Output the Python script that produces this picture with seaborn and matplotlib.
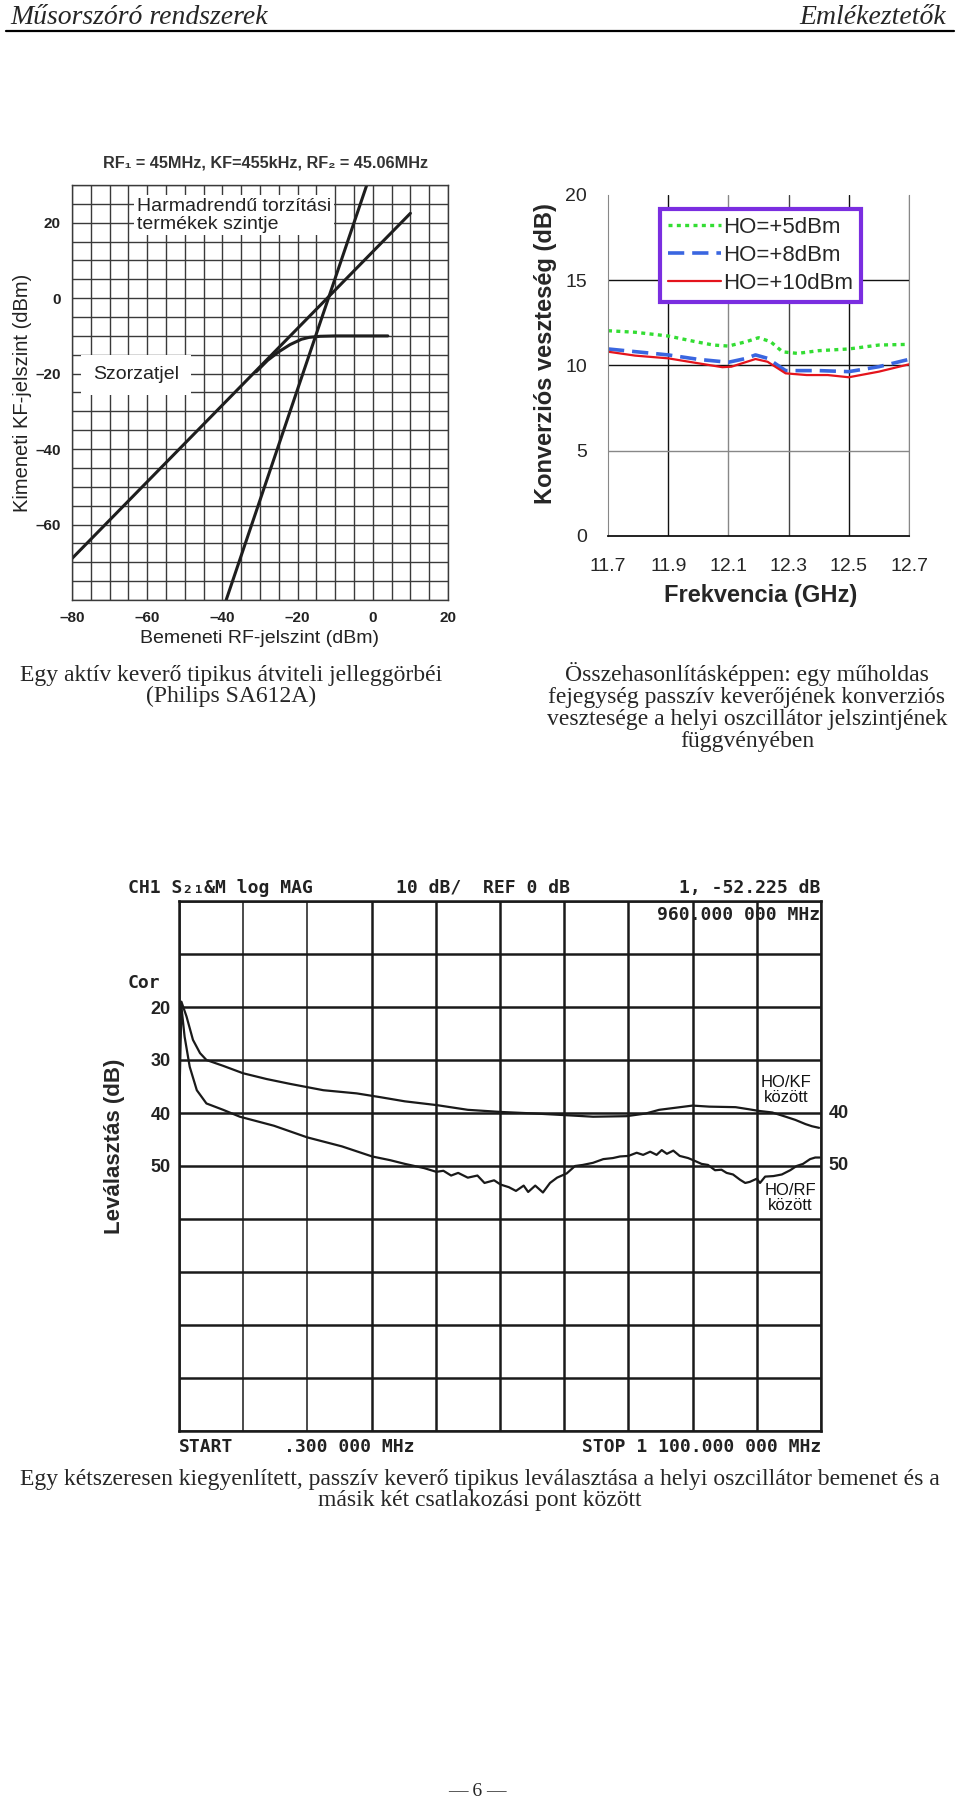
import numpy as np
import pandas as pd
import seaborn as sns
import matplotlib.pyplot as plt
from matplotlib.lines import Line2D

### Page size in pixels (saved at dpi=100)
W, H = 960, 1803

### Top-left: active mixer transfer curves (Philips SA612A)
rf_fund = [-80, 10]
if_fund = [-69, 22.5]
rf_third = [-39, -1.6]
if_third = [-80, 30]
rf_comp = [-31, -28, -25, -22, -19, -17, -14, -10, 4]
if_comp = [-19.5, -16.5, -14.2, -12.3, -10.9, -10.4, -10.1, -10, -10]
tl_xticks = [-80, -60, -40, -20, 0, 20]
tl_xlabels = ['–80', '–60', '–40', '–20', '0', '20']
tl_yticks = [-60, -40, -20, 0, 20]
tl_ylabels = ['–60', '–40', '–20', '0', '20']

### Top-right: conversion loss vs LO level
freq_ho5 = [11.7, 11.79, 11.9, 11.99, 12.05, 12.1, 12.16, 12.2, 12.24, 12.28, 12.33, 12.4, 12.5, 12.6, 12.7]
loss_ho5 = [12.04, 11.95, 11.73, 11.4, 11.2, 11.14, 11.4, 11.63, 11.4, 10.8, 10.71, 10.87, 10.97, 11.2, 11.24]
freq_ho8 = [11.7, 11.9, 12.0, 12.1, 12.16, 12.19, 12.23, 12.29, 12.4, 12.5, 12.6, 12.7]
loss_ho8 = [10.97, 10.62, 10.36, 10.19, 10.42, 10.62, 10.42, 9.7, 9.7, 9.64, 9.93, 10.36]
freq_ho10 = [11.7, 11.79, 11.9, 12.0, 12.08, 12.11, 12.19, 12.23, 12.29, 12.36, 12.43, 12.5, 12.6, 12.7]
loss_ho10 = [10.81, 10.58, 10.42, 10.13, 9.9, 9.93, 10.38, 10.22, 9.54, 9.44, 9.44, 9.31, 9.64, 10.07]
tr_xticks = [11.7, 11.9, 12.1, 12.3, 12.5, 12.7]
tr_yticks = [0, 5, 10, 15, 20]

### Bottom: LO isolation of a double balanced mixer (network analyser trace)
mhz_kf = [0.3, 4.4, 13.2, 24.2, 36.3, 47.3, 75.9, 110, 150.7, 190.3, 247.5, 304.7, 344.3, 387.2,
          441.1, 495, 551.1, 610.5, 661.1, 709.5, 766.7, 799.7, 822.8, 851.4, 880, 908.6, 953.7,
          976.8, 993.3, 1016.4, 1039.5, 1056, 1073.6, 1084.6, 1096.7]
db_kf = [31, 19.0, 21.8, 26.2, 28.7, 30.0, 31.1, 32.5, 33.6, 34.5, 35.7, 36.3, 37.0, 37.8,
         38.5, 39.4, 39.8, 40.1, 40.4, 40.7, 40.6, 40.1, 39.4, 39.0, 38.6, 38.8, 38.9,
         39.3, 39.6, 39.9, 40.7, 41.3, 42.1, 42.5, 42.8]
mhz_rf = [0.3, 4.4, 9.9, 18.7, 30.8, 47.3, 75.9, 104.5, 162.8, 220, 279.4, 331.1, 361.9, 387.2,
          420.2, 441.1, 453.2, 466.4, 478.5, 495, 511.5, 523.6, 540.1, 551.1, 565.4, 577.5,
          590.7, 598.4, 610.5, 623.7, 635.8, 647.9, 664.4, 678.7, 691.9, 709.5, 727.1, 743.6,
          755.7, 770, 784.3, 795.3, 807.4, 818.4, 827.2, 836, 847, 858, 872.3, 881.1, 895.4,
          906.4, 918.5, 929.5, 938.3, 949.3, 961.4, 970.2, 977.9, 990, 995.5, 1004.3, 1018.6,
          1032.9, 1047.2, 1058.2, 1069.2, 1081.3, 1090.1, 1097.8]
db_rf = [41, 19.9, 25.6, 31.3, 35.7, 38.2, 39.4, 40.7, 42.4, 44.6, 46.3, 48.2, 48.9, 49.6,
         50.4, 51.1, 50.9, 51.8, 51.3, 52.2, 51.8, 53.2, 52.7, 53.5, 54.0, 54.7,
         53.7, 54.9, 53.7, 55.0, 53.2, 52.2, 51.4, 50.0, 49.8, 49.4, 48.7, 48.5,
         48.2, 48.1, 47.5, 47.9, 47.3, 47.9, 47.0, 47.7, 47.1, 48.1, 48.5, 48.9, 49.6,
         49.8, 50.8, 50.7, 51.3, 51.6, 52.6, 53.2, 53.0, 52.4, 53.2, 52.0, 51.9,
         51.6, 50.8, 50.0, 49.6, 48.7, 48.4, 48.4]
bt_yticks = list(range(0, 101, 10))
bt_ylabels = ['', '', '20', '30', '40', '50', '', '', '', '', '']


sns.set_style("white")
plt.rcParams['font.family'] = ['Liberation Sans', 'DejaVu Sans']
serif = ['Liberation Serif', 'DejaVu Serif']
mono = ['DejaVu Sans Mono', 'DejaVu Sans']


def px(x, y):
    return x / W, 1 - y / H


def box(l, t, r, b):
    return [l / W, 1 - b / H, (r - l) / W, (b - t) / H]


fig = plt.figure(figsize=(W / 100, H / 100), dpi=100)

### Page header
fig.text(*px(10, 24), 'Műsorszóró rendszerek', family=serif, style='italic', fontsize=20, va='baseline')
fig.text(*px(946, 24), 'Emlékeztetők', family=serif, style='italic', fontsize=20, va='baseline', ha='right')
fig.add_artist(Line2D([6 / W, 954 / W], [1 - 31 / H] * 2, color='black', lw=1.6))


### Top-left chart
ink = '#1e1e1e'
ax1 = fig.add_axes(box(72, 185, 448, 600))
sns.lineplot(x=rf_fund, y=if_fund, ax=ax1, color=ink, lw=2.2)
sns.lineplot(x=rf_third, y=if_third, ax=ax1, color=ink, lw=2.2)
sns.lineplot(x=rf_comp, y=if_comp, ax=ax1, color=ink, lw=2.2)
ax1.set_xlim(-80, 20)
ax1.set_ylim(-80, 30)
ax1.set_xticks(tl_xticks, labels=tl_xlabels, fontweight='bold', fontsize=11)
ax1.set_yticks(tl_yticks, labels=tl_ylabels, fontweight='bold', fontsize=11)
ax1.set_xticks(np.arange(-80, 21, 5), minor=True)
ax1.set_yticks(np.arange(-80, 31, 5), minor=True)
ax1.grid(which='both', color='#3a3a3a', lw=1.0)
ax1.tick_params(which='both', length=0, pad=8, colors='#222')
for s in ax1.spines.values():
    s.set_color('#3a3a3a')
    s.set_linewidth(1.0)
ax1.set_xlabel('Bemeneti RF-jelszint (dBm)', fontsize=14, color='#222')
ax1.set_ylabel('Kimeneti KF-jelszint (dBm)', fontsize=14.5, color='#222')
ax1.xaxis.set_label_coords(0.5, -0.072)
ax1.yaxis.set_label_coords(-0.106, 0.5)
ax1.text(-62.7, 22, 'Harmadrendű torzítási\ntermékek szintje', fontsize=14, color='#222',
         va='center', ha='left', linespacing=1.05,
         bbox=dict(boxstyle='square,pad=0.15', fc='white', ec='none'))
ax1.text(-74.4, -20.3, 'Szorzatjel', fontsize=14, color='#222', va='center', ha='left',
         bbox=dict(boxstyle='square,pad=0.6', fc='white', ec='none'))
fig.text(*px(266, 163), 'RF₁ = 45MHz, KF=455kHz, RF₂ = 45.06MHz', fontsize=11.7,
         fontweight='bold', color='#333', ha='center', va='center')


### Top-right chart
ax2 = fig.add_axes(box(608, 195, 909, 536))
sns.lineplot(x=freq_ho5, y=loss_ho5, ax=ax2, color='#33dd33', lw=2.4,
             linestyle=(0, (1.2, 1.3)), label='HO=+5dBm')
sns.lineplot(x=freq_ho8, y=loss_ho8, ax=ax2, color='#3a66e0', lw=2.6,
             linestyle=(0, (4.5, 2.2)), label='HO=+8dBm')
sns.lineplot(x=freq_ho10, y=loss_ho10, ax=ax2, color='#e4141c', lw=1.6, label='HO=+10dBm')
ax2.set_xlim(11.7, 12.7)
ax2.set_ylim(0, 20)
ax2.set_xticks(tr_xticks, labels=[f'{v:.1f}' for v in tr_xticks])
ax2.set_yticks(tr_yticks)
ax2.grid(True, color='#777', lw=1)
for g, c in zip(ax2.get_ygridlines(), ['none', '#888', '#111', '#111', 'none']):
    g.set_color(c)
for g, c in zip(ax2.get_xgridlines(), ['none', '#111', '#888', '#444', '#111', '#888']):
    g.set_color(c)
ax2.spines['top'].set_visible(False)
ax2.spines['right'].set_color('#888')
ax2.spines['left'].set_color('#888')
ax2.spines['bottom'].set_color('#111')
ax2.spines['bottom'].set_linewidth(1.3)
ax2.tick_params(axis='both', direction='out', length=7, width=1, color='#333', labelsize=14)
ax2.tick_params(axis='x', pad=9)
ax2.tick_params(axis='y', pad=8)
ax2.set_xlabel('Frekvencia (GHz)', fontsize=17, fontweight='bold')
ax2.set_ylabel('Konverziós veszteség (dB)', fontsize=17, fontweight='bold')
ax2.xaxis.set_label_coords(0.508, -0.141)
ax2.yaxis.set_label_coords(-0.17, 0.534)
leg = ax2.legend(loc='upper left', bbox_to_anchor=(0.173, 0.959), fontsize=16, frameon=True,
                 fancybox=False, framealpha=1, edgecolor='#7a2ee0', handlelength=2.4,
                 handletextpad=0.1, labelspacing=0.32, borderpad=0.35, borderaxespad=0)
leg.get_frame().set_linewidth(3)


### Bottom chart
ax3 = fig.add_axes(box(179, 901, 821, 1431))
sns.lineplot(x=mhz_kf, y=db_kf, ax=ax3, color='#1a1a1a', lw=1.6)
sns.lineplot(x=mhz_rf, y=db_rf, ax=ax3, color='#1a1a1a', lw=1.6)
ax3.set_xlim(0.3, 1100)
ax3.set_ylim(100, 0)
ax3.set_xticks(np.linspace(0.3, 1100, 11), labels=[])
ax3.set_yticks(bt_yticks, labels=bt_ylabels, fontweight='bold', fontsize=13)
ax3.grid(True, color='#1a1a1a', lw=1.8)
for g in ax3.get_xgridlines()[1:3]:
    g.set_linewidth(1.1)
ax3.tick_params(length=0, pad=6, colors='#222')
for s in ax3.spines.values():
    s.set_color('#1a1a1a')
    s.set_linewidth(1.8)
ax3.set_ylabel('Leválasztás (dB)', fontsize=16, fontweight='bold')
ax3.yaxis.set_label_coords(-0.084, 0.538)
for v in [40, 50]:
    ax3.text(1.012, v, str(v), transform=ax3.get_yaxis_transform(), fontsize=13,
             fontweight='bold', color='#222', va='center', ha='left')
ax3.text(0.9455, 0.643, 'HO/KF\nközött', transform=ax3.transAxes, fontsize=12,
         ha='center', va='center', linespacing=1.0, color='#111')
ax3.text(0.952, 0.44, 'HO/RF\nközött', transform=ax3.transAxes, fontsize=12,
         ha='center', va='center', linespacing=1.0, color='#111')

inst = dict(family=mono, fontsize=13, fontweight='bold', color='#222', va='center')
fig.text(*px(128, 888), 'CH1 S₂₁&M log MAG', ha='left', **inst)
fig.text(*px(396, 888), '10 dB/  REF 0 dB', ha='left', **inst)
fig.text(*px(820, 888), '1, -52.225 dB', ha='right', **inst)
fig.text(*px(820, 915), '960.000 000 MHz', ha='right', **inst)
fig.text(*px(128, 983), 'Cor', ha='left', **inst)
fig.text(*px(179, 1447), 'START', ha='left', **inst)
fig.text(*px(284, 1447), '.300 000 MHz', ha='left', **inst)
fig.text(*px(821, 1447), 'STOP 1 100.000 000 MHz', ha='right', **inst)


### Captions
cap = dict(family=serif, fontsize=17, ha='center', va='center', linespacing=1.05)
fig.text(*px(231, 686), 'Egy aktív keverő tipikus átviteli jelleggörbéi\n(Philips SA612A)', **cap)
fig.text(*px(747, 707), 'Összehasonlításképpen: egy műholdas\nfejegység passzív keverőjének konverziós\n'
         'vesztesége a helyi oszcillátor jelszintjének\nfüggvényében', **cap)
fig.text(*px(480, 1490), 'Egy kétszeresen kiegyenlített, passzív keverő tipikus leválasztása '
         'a helyi oszcillátor bemenet és a\nmásik két csatlakozási pont között', **cap)
fig.text(*px(477, 1792), '— 6 —', family=serif, fontsize=14, ha='center', va='center')

fig.savefig('out.png', dpi=100)
